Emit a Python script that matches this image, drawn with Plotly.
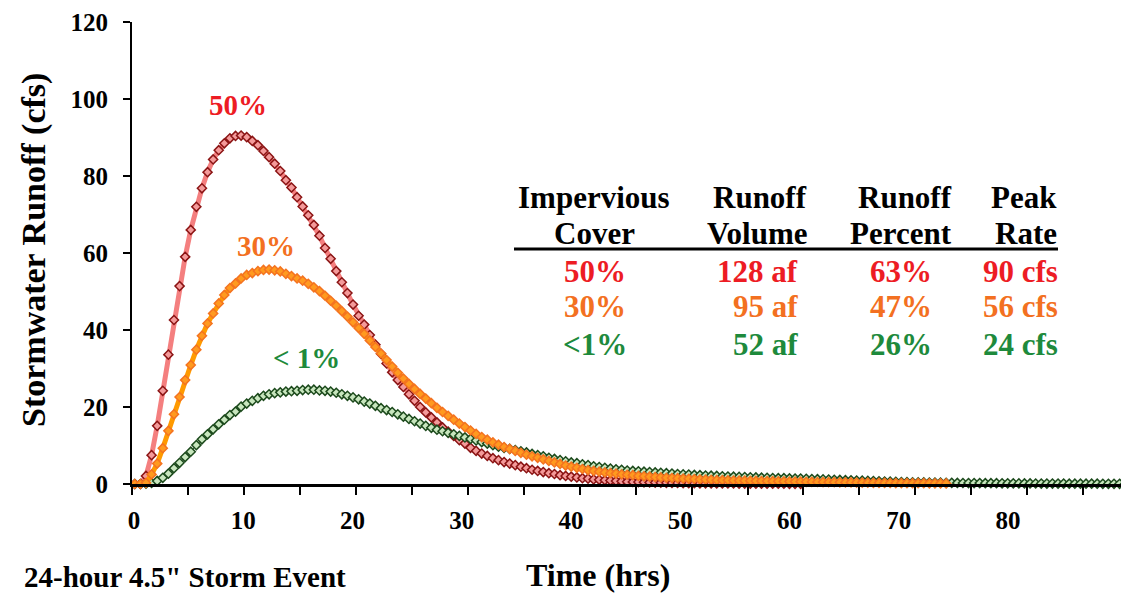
import plotly.graph_objects as go

# ---------------- data (hours, 0.5 h step) ----------------
runoff_50 = [0, 0, 2.1, 7.5, 15.1, 24.2, 33.6, 42.6, 51.4, 59.0,
             66.0, 72.0, 76.8, 81.0, 84.3, 86.7, 88.5, 89.8, 90.4, 90.5,
             90.1, 89.1, 88.0, 86.5, 84.9, 83.2, 81.3, 78.9, 77.0, 74.5,
             72.1, 69.8, 67.3, 64.5, 61.3, 58.5, 55.3, 52.4, 49.6, 46.6,
             43.7, 41.4, 38.7, 36.2, 33.8, 31.3, 29.0, 27.0, 25.2, 23.3,
             21.6, 20.0, 18.6, 17.3, 16.0, 14.7, 13.6, 12.5, 11.4, 10.5,
             9.4, 8.6, 7.9, 7.3, 6.7, 6.2, 5.7, 5.3, 4.9, 4.5,
             4.1, 3.7, 3.4, 3.1, 2.8, 2.6, 2.3, 2.1, 1.9, 1.7,
             1.5, 1.4, 1.2, 1.1, 1.0, 0.9, 0.8, 0.7, 0.6, 0.55,
             0.5, 0.45, 0.4, 0.37, 0.34, 0.31, 0.28, 0.26, 0.24, 0.22,
             0.2, 0.19, 0.18, 0.17, 0.16, 0.15, 0.14, 0.13, 0.12, 0.11,
             0.1, 0.09, 0.09, 0.08, 0.08, 0.07, 0.07, 0.06, 0.06, 0.05]

runoff_30 = [0, 0, 0.3, 2.5, 5.3, 9.3, 13.8, 18.1, 22.6, 27.0,
             30.9, 34.9, 38.5, 41.7, 44.3, 46.9, 49.1, 50.9, 52.1, 53.4,
             54.3, 54.8, 55.3, 55.6, 55.7, 55.5, 55.2, 54.6, 54.0, 53.4,
             52.8, 52.0, 51.1, 50.1, 48.9, 47.6, 46.3, 44.9, 43.5, 42.0,
             40.5, 39.0, 37.3, 35.6, 33.9, 32.2, 30.5, 28.9, 27.4, 26.0,
             24.7, 23.4, 22.2, 21.0, 19.8, 18.7, 17.7, 16.7, 15.7, 14.8,
             13.9, 13.0, 12.2, 11.5, 10.8, 10.2, 9.6, 9.1, 8.6, 8.1,
             7.6, 7.2, 6.8, 6.4, 6.0, 5.6, 5.2, 4.8, 4.5, 4.2,
             3.9, 3.6, 3.4, 3.2, 3.0, 2.8, 2.7, 2.5, 2.4, 2.3,
             2.1, 2.0, 1.9, 1.8, 1.7, 1.6, 1.55, 1.5, 1.4, 1.35,
             1.3, 1.2, 1.15, 1.1, 1.0, 1.0, 0.95, 0.9, 0.88, 0.85,
             0.82, 0.8, 0.78, 0.75, 0.72, 0.7, 0.67, 0.65, 0.62, 0.6,
             0.57, 0.55, 0.52, 0.5, 0.48, 0.46, 0.44, 0.42, 0.4, 0.38,
             0.36, 0.34, 0.32, 0.3, 0.28, 0.26, 0.25, 0.24, 0.23, 0.22,
             0.21, 0.2, 0.19, 0.18, 0.17, 0.16]

runoff_1 = [0, 0, 0.1, 0.3, 0.8, 1.6, 2.7, 4.1, 5.5, 7.0,
            8.4, 10.1, 11.6, 12.9, 14.2, 15.5, 16.7, 17.9, 18.8, 20.1,
            20.9, 21.6, 22.3, 22.9, 23.3, 23.6, 23.8, 24.0, 24.1, 24.2,
            24.4, 24.5, 24.5, 24.3, 24.2, 24.0, 23.7, 23.3, 22.9, 22.5,
            22.0, 21.4, 20.9, 20.3, 19.7, 19.2, 18.7, 18.1, 17.5, 16.9,
            16.3, 15.7, 15.1, 14.6, 14.1, 13.7, 13.3, 12.9, 12.5, 12.1,
            11.7, 11.3, 10.9, 10.5, 10.1, 9.7, 9.4, 9.1, 8.8, 8.5,
            8.2, 7.8, 7.5, 7.2, 6.8, 6.5, 6.2, 5.9, 5.6, 5.4,
            5.1, 4.9, 4.6, 4.4, 4.2, 4.0, 3.8, 3.7, 3.5, 3.4,
            3.3, 3.2, 3.1, 3.0, 2.9, 2.8, 2.7, 2.6, 2.5, 2.45,
            2.35, 2.3, 2.2, 2.15, 2.1, 2.0, 1.95, 1.9, 1.85, 1.8,
            1.75, 1.7, 1.65, 1.6, 1.55, 1.5, 1.5, 1.45, 1.4, 1.4,
            1.35, 1.3, 1.25, 1.2, 1.15, 1.1, 1.05, 1.0, 0.95, 0.9,
            0.85, 0.8, 0.75, 0.7, 0.65, 0.6, 0.56, 0.52, 0.48, 0.45,
            0.42, 0.4, 0.38, 0.36, 0.34, 0.32, 0.3, 0.28, 0.26, 0.25,
            0.24, 0.23, 0.22, 0.21, 0.2, 0.19, 0.18, 0.17, 0.16, 0.15,
            0.14, 0.13, 0.12, 0.12, 0.11, 0.1, 0.1, 0.09, 0.09, 0.08,
            0.08, 0.07, 0.07, 0.06, 0.06, 0.05, 0.05, 0.05]

TIME_STEP = 0.5
hours_50 = [i * TIME_STEP for i in range(len(runoff_50))]
hours_30 = [i * TIME_STEP for i in range(len(runoff_30))]
hours_1 = [i * TIME_STEP for i in range(len(runoff_1))]

x_tick_labels = ["0", "10", "20", "30", "40", "50", "60", "70", "80"]
x_label_hours = [0, 10, 20, 30, 40, 50, 60, 70, 80]
y_tick_vals = [0, 20, 40, 60, 80, 100, 120]

table_header1 = ["Impervious", "Runoff", "Runoff", "Peak"]
table_header2 = ["Cover", "Volume", "Percent", "Rate"]
table_rows = [
    ["50%", "128 af", "63%", "90 cfs"],
    ["30%", "95 af", "47%", "56 cfs"],
    ["<1%", "52 af", "26%", "24 cfs"],
]
curve_labels = ["50%", "30%", "< 1%"]

RED = "#ED1C24"
ORANGE = "#F37021"
GREEN = "#1E8A3C"
FONT = "Liberation Serif"

# the page body adds an 8px offset; layout works in page pixels minus that offset
OFF = 8
W, H = 1129 - OFF, 594 - OFF
L_M, R_M, T_M, B_M = 132 - OFF, 1, 22 - OFF, 110
PW = W - L_M - R_M
PH = H - T_M - B_M
X0, X1 = -0.25, 88.75


def px_to_xp(px):
    return (px - OFF - L_M) / PW


def py_to_yp(py):
    return (H - B_M - (py - OFF)) / PH


fig = go.Figure()

fig.add_trace(go.Scatter(
    x=hours_50, y=runoff_50, mode="lines+markers", cliponaxis=False,
    line=dict(color="#F47F7F", width=5),
    marker=dict(symbol="diamond", size=7, color="#F49A9A",
                line=dict(color="#8B1414", width=1.5)),
    showlegend=False))
fig.add_trace(go.Scatter(
    x=hours_1, y=runoff_1, mode="lines+markers", cliponaxis=False,
    line=dict(color="#2E5A2E", width=1),
    marker=dict(symbol="diamond", size=7, color="#C8E6BE",
                line=dict(color="#1C4A1C", width=1.5)),
    showlegend=False))
fig.add_trace(go.Scatter(
    x=hours_30, y=runoff_30, mode="lines+markers", cliponaxis=False,
    line=dict(color="#FF9A00", width=5),
    marker=dict(symbol="diamond", size=7, color="#FF9A1F",
                line=dict(color="#F47320", width=1.5)),
    showlegend=False))

# label positions on the axis (labels are spaced slightly tighter than the data ticks)
PX_PER_HOUR = PW / (X1 - X0)
ref_px_zero = 132 + (0 - X0) * PX_PER_HOUR
label_pos = [((134 + 10.925 * h) - ref_px_zero) / PX_PER_HOUR for h in x_label_hours]
minor_ticks = [X0 + 5 * k for k in range(18)]

fig.update_layout(
    width=W, height=H,
    margin=dict(l=L_M, r=R_M, t=T_M, b=B_M),
    paper_bgcolor="white", plot_bgcolor="white",
    font=dict(family=FONT, color="black"),
    xaxis=dict(range=[X0, X1], showgrid=False, zeroline=False,
               showline=True, linecolor="black", linewidth=3,
               tickmode="array", tickvals=label_pos, ticktext=x_tick_labels,
               ticks="", ticklabelstandoff=12,
               tickfont=dict(family=FONT, size=25, color="black", weight="bold"),
               minor=dict(tickmode="array", tickvals=minor_ticks, ticks="outside",
                          ticklen=8, tickwidth=2, tickcolor="black", showgrid=False)),
    yaxis=dict(range=[0, 120], showgrid=False, zeroline=False,
               showline=True, linecolor="black", linewidth=2,
               tickmode="array", tickvals=y_tick_vals,
               ticks="outside", ticklen=7, tickwidth=2, tickcolor="black",
               ticklabelstandoff=10,
               tickfont=dict(family=FONT, size=25, color="black", weight="bold")),
)


def text(t, px, py, size, color="black", xanchor="center", angle=0):
    return dict(text=t, x=px_to_xp(px), y=py_to_yp(py), xref="paper", yref="paper",
                showarrow=False, xanchor=xanchor, yanchor="middle", textangle=angle,
                font=dict(family=FONT, size=size, color=color, weight="bold"))


ann = []
ann.append(text("Stormwater Runoff (cfs)", 34, 250, 34, angle=-90))
ann.append(text("Time (hrs)", 598, 575, 32))
ann.append(text("24-hour 4.5\" Storm Event", 22, 577, 29, xanchor="left"))

label_colors = [RED, ORANGE, GREEN]
label_xy = [(238, 105), (266, 246), (306, 358)]
for t, col, (lx, ly) in zip(curve_labels, label_colors, label_xy):
    ann.append(text(t, lx, ly, 29, col))

col_anchor = [("center", 594), ("right", 809), ("right", 954), ("right", 1059)]
data_anchor = [("center", 595), ("right", 800), ("right", 934), ("right", 1060)]
for i, (a, xpos) in enumerate(col_anchor):
    ann.append(text(table_header1[i], xpos, 197, 31, xanchor=a))
    ann.append(text(table_header2[i], xpos, 233, 31, xanchor=a))
row_y = [271, 307, 345]
for r, row in enumerate(table_rows):
    for i, (a, xpos) in enumerate(data_anchor):
        ann.append(text(row[i], xpos, row_y[r], 31, label_colors[r], xanchor=a))

fig.update_layout(annotations=ann)
fig.add_shape(type="line", xref="paper", yref="paper",
              x0=px_to_xp(514), x1=px_to_xp(1058),
              y0=py_to_yp(249), y1=py_to_yp(249),
              line=dict(color="black", width=3))

fig.write_html("out.html")
